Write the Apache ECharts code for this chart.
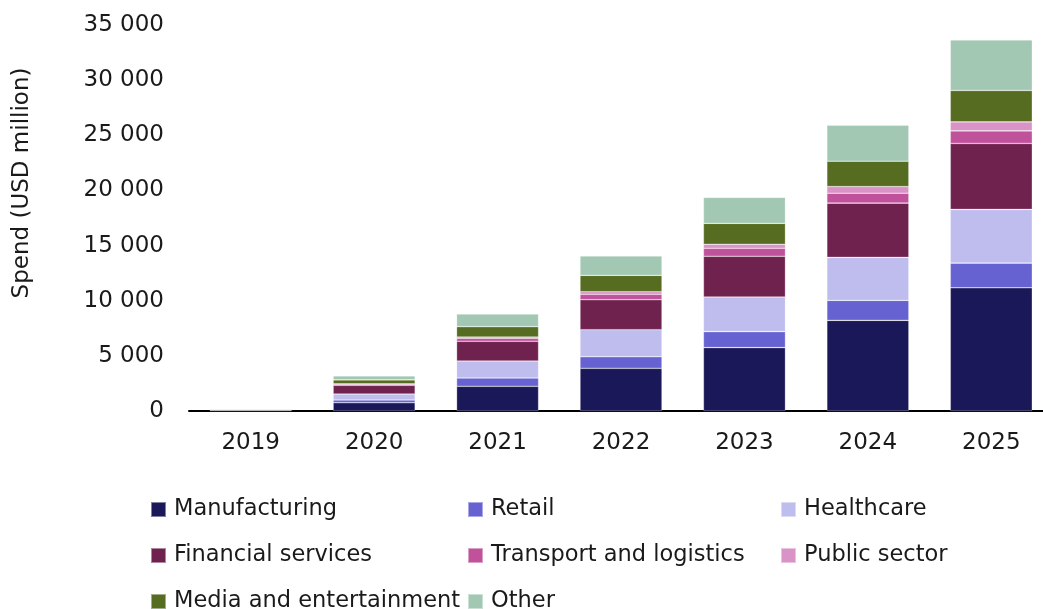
<!DOCTYPE html>
<html>
<head>
<meta charset="utf-8">
<script src="https://cdn.jsdelivr.net/npm/echarts@6/dist/echarts.min.js"></script>
<style>
html,body{margin:0;padding:0;background:#fff;}
#chart{width:1043px;height:609px;}
</style>
</head>
<body>
<div id="chart"></div>
<script>
var years = ['2019','2020','2021','2022','2023','2024','2025'];
var seriesNames = ['Manufacturing','Retail','Healthcare','Financial services','Transport and logistics','Public sector','Media and entertainment','Other'];
var manufacturing = [60, 750, 2240, 3870, 5750, 8220, 11170];
var retail        = [15, 245, 750, 1050, 1450, 1810, 2240];
var healthcare    = [25, 545, 1540, 2450, 3140, 3900, 4870];
var financial     = [80, 790, 1790, 2720, 3690, 4920, 5980];
var transport     = [5, 90, 270, 490, 725, 900, 1140];
var publicSector  = [3, 45, 120, 235, 360, 600, 815];
var media         = [8, 360, 935, 1485, 1900, 2300, 2850];
var other         = [8, 360, 1150, 1750, 2355, 3260, 4580];
var yTicks = [0, 5000, 10000, 15000, 20000, 25000, 30000, 35000];

var values = [manufacturing, retail, healthcare, financial, transport, publicSector, media, other];
var colors = ['#1b1859','#6762d2','#bfbded','#70224f','#c0529c','#d993c6','#566c21','#a2c8b4'];
var FONT = 'DejaVu Sans';

var series = seriesNames.map(function(n, i){
  return {
    name: n, type: 'bar', stack: 'total', barWidth: 82,
    data: values[i],
    itemStyle: {color: colors[i], borderColor: 'rgba(255,255,255,0.45)', borderWidth: 0.6},
    emphasis: {disabled: true}
  };
});

var legendPos = [[150,498],[467,498],[780,498],[150,544],[467,544],[780,544],[150,590],[467,590]];
var legends = seriesNames.map(function(n, i){
  return {
    data: [n], left: legendPos[i][0], top: legendPos[i][1],
    itemWidth: 15, itemHeight: 15, icon: 'rect', padding: 0,
    selectedMode: false,
    textStyle: {fontFamily: FONT, fontSize: 22.5, color: '#1a1a1a', padding: [0,0,0,3], lineHeight: 20}
  };
});

var chart = echarts.init(document.getElementById('chart'), null, {renderer: 'canvas'});
chart.setOption({
  animation: false,
  grid: {left: 189, top: 25, height: 386, width: 864, containLabel: false, outerBoundsMode: 'none'},
  legend: legends,
  xAxis: {
    type: 'category', data: years,
    axisLine: {lineStyle: {color: '#000', width: 2}},
    axisTick: {show: false},
    axisLabel: {fontFamily: FONT, fontSize: 23, color: '#1a1a1a', margin: 21}
  },
  yAxis: {
    type: 'value', min: yTicks[0], max: yTicks[yTicks.length-1], interval: 5000,
    splitLine: {show: false}, axisLine: {show: false}, axisTick: {show: false},
    axisLabel: {
      fontFamily: FONT, fontSize: 23, color: '#1a1a1a', margin: 25,
      formatter: function(v){ return String(v).replace(/\B(?=(\d{3})+(?!\d))/g, ' '); }
    }
  },
  graphic: [{
    type: 'text', x: 22, y: 183, rotation: Math.PI/2,
    style: {text: 'Spend (USD million)', fontFamily: FONT, fontSize: 23, fill: '#1a1a1a', align: 'center', verticalAlign: 'middle'}
  }],
  series: series
});
</script>
</body>
</html>
